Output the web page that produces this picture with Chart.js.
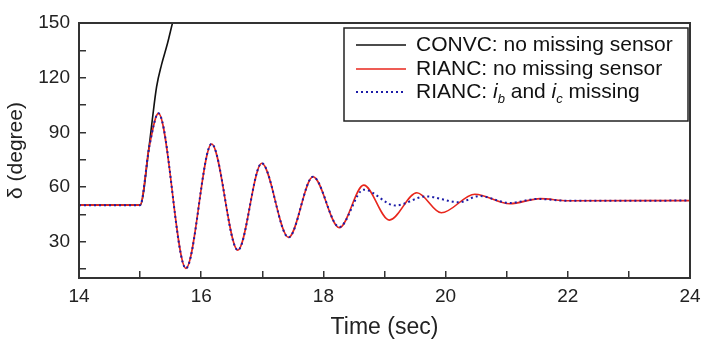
<!DOCTYPE html>
<html>
<head>
<meta charset="utf-8">
<script src="https://cdn.jsdelivr.net/npm/chart.js@4.4.1/dist/chart.umd.min.js"></script>
<style>
  html, body { margin: 0; padding: 0; background: #fff; }
  #box { width: 701px; height: 341px; }
</style>
</head>
<body>
<div id="box"><canvas id="chart"></canvas></div>
<script>
// valores (tempo em s, ângulo em graus)
const timeConv = [14, 15.0, 15.15, 15.2, 15.27, 15.35, 15.45, 15.53, 15.6];
const deltaConv = [50, 50, 83, 97, 115, 127, 139, 150, 159];

const timeRianc = [14, 15.0, 15.15, 15.3, 15.75, 16.17, 16.6, 16.99, 17.43, 17.83, 18.26, 18.66, 19.08, 19.53, 19.93, 20.48, 21.05, 21.55, 22.0, 24];
const deltaRianc = [50, 50, 82, 100.4, 15.3, 83.6, 25.3, 73, 32.3, 65.6, 37.6, 61, 41.8, 56.8, 45.8, 56, 50.8, 53.6, 52.4, 52.5];

const timeMissing = [14, 15.0, 15.15, 15.3, 15.75, 16.17, 16.6, 16.99, 17.43, 17.83, 18.26, 18.66, 19.18, 19.68, 20.22, 20.55, 21.05, 21.5, 22.0, 24];
const deltaMissing = [50, 50, 82, 100.4, 15.3, 83.6, 25.3, 73, 32.3, 65.6, 38, 58.5, 49.8, 54.8, 51.6, 55, 51.2, 53.4, 52.4, 52.5];

const seriesLabels = ['CONVC: no missing sensor', 'RIANC: no missing sensor', 'RIANC: i_b and i_c missing'];
const xTickLabels = [14, 16, 18, 20, 22, 24];
const yTickLabels = [30, 60, 90, 120, 150];

function pts(t, v) {
  return t.map((x, i) => ({ x: x, y: v[i] }));
}

// moldura + legenda desenhadas à mão
const framePlugin = {
  id: 'frame',
  afterDraw(chart) {
    const ctx = chart.ctx;
    const a = chart.chartArea;
    ctx.save();
    ctx.strokeStyle = '#333';
    ctx.lineWidth = 2;
    ctx.strokeRect(a.left, a.top, a.right - a.left, a.bottom - a.top);

    // caixa da legenda
    const bx = a.right - 346, by = a.top + 5, bw = 344, bh = 93;
    ctx.fillStyle = '#fff';
    ctx.fillRect(bx, by, bw, bh);
    ctx.lineWidth = 1.5;
    ctx.strokeStyle = '#222';
    ctx.strokeRect(bx, by, bw, bh);

    const rows = [by + 17, by + 41, by + 64];
    chart.data.datasets.forEach((ds, i) => {
      ctx.beginPath();
      ctx.strokeStyle = ds.borderColor;
      ctx.lineWidth = ds.borderWidth;
      ctx.setLineDash(ds.borderDash || []);
      ctx.moveTo(bx + 12, rows[i]);
      ctx.lineTo(bx + 62, rows[i]);
      ctx.stroke();
      ctx.setLineDash([]);
    });

    ctx.fillStyle = '#111';
    ctx.textBaseline = 'middle';
    ctx.textAlign = 'left';
    const tx = bx + 72;
    const font = '21px "Liberation Sans", Arial, sans-serif';
    const ital = 'italic 21px "Liberation Sans", Arial, sans-serif';
    const sub = 'italic 13px "Liberation Sans", Arial, sans-serif';
    ctx.font = font;
    ctx.fillText(seriesLabels[0], tx, rows[0]);
    ctx.fillText(seriesLabels[1], tx, rows[1]);

    // terceira linha com índices
    const parts = [
      ['RIANC: ', font, 0], ['i', ital, 0], ['b', sub, 7], [' and ', font, 0],
      ['i', ital, 0], ['c', sub, 7], [' missing', font, 0]
    ];
    let x = tx;
    parts.forEach(p => {
      ctx.font = p[1];
      ctx.fillText(p[0], x, rows[2] + p[2]);
      x += ctx.measureText(p[0]).width;
    });
    ctx.restore();
  }
};

const ctx = document.getElementById('chart').getContext('2d');
new Chart(ctx, {
  type: 'line',
  data: {
    datasets: [
      {
        label: seriesLabels[0],
        data: pts(timeConv, deltaConv),
        borderColor: '#111',
        borderWidth: 1.6,
        order: 2
      },
      {
        label: seriesLabels[1],
        data: pts(timeRianc, deltaRianc),
        borderColor: '#e8261c',
        borderWidth: 1.6,
        order: 1
      },
      {
        label: seriesLabels[2],
        data: pts(timeMissing, deltaMissing),
        borderColor: '#1c1ca8',
        borderWidth: 2,
        borderDash: [2, 3],
        order: 0
      }
    ]
  },
  options: {
    responsive: true,
    maintainAspectRatio: false,
    animation: false,
    elements: {
      point: { radius: 0 },
      line: { cubicInterpolationMode: 'monotone', fill: false }
    },
    layout: { padding: { top: 23, right: 11, left: 0, bottom: 0 } },
    plugins: {
      legend: { display: false },
      tooltip: { enabled: false }
    },
    scales: {
      x: {
        type: 'linear',
        min: 14,
        max: 24,
        afterFit(s) { s.height = 63; s.paddingLeft = 0; s.paddingRight = 0; },
        ticks: {
          stepSize: 1,
          autoSkip: false,
          maxRotation: 0,
          padding: 14,
          color: '#222',
          font: { family: '"Liberation Sans", Arial', size: 19 },
          callback: v => xTickLabels.includes(v) ? v : ''
        },
        grid: { drawOnChartArea: false, tickLength: -7, color: '#333', lineWidth: 1.5 },
        border: { display: false },
        title: {
          display: true,
          text: 'Time (sec)',
          color: '#222',
          font: { family: '"Liberation Sans", Arial', size: 23 },
          padding: { top: 0, bottom: 0 }
        }
      },
      y: {
        min: 10,
        max: 150,
        afterFit(s) { s.width = 79; s.paddingTop = 0; s.paddingBottom = 0; },
        afterBuildTicks(s) {
          s.ticks = [15, 30, 45, 60, 75, 90, 105, 120, 135, 150].map(v => ({ value: v }));
        },
        ticks: {
          autoSkip: false,
          padding: 16,
          color: '#222',
          font: { family: '"Liberation Sans", Arial', size: 19 },
          callback: v => yTickLabels.includes(v) ? v : ''
        },
        grid: { drawOnChartArea: false, tickLength: -7, color: '#333', lineWidth: 1.5 },
        border: { display: false },
        title: {
          display: true,
          text: 'δ (degree)',
          color: '#222',
          font: { family: '"Liberation Sans", Arial', size: 21 },
          padding: { top: 4, bottom: 0 }
        }
      }
    }
  },
  plugins: [framePlugin]
});
</script>
</body>
</html>
